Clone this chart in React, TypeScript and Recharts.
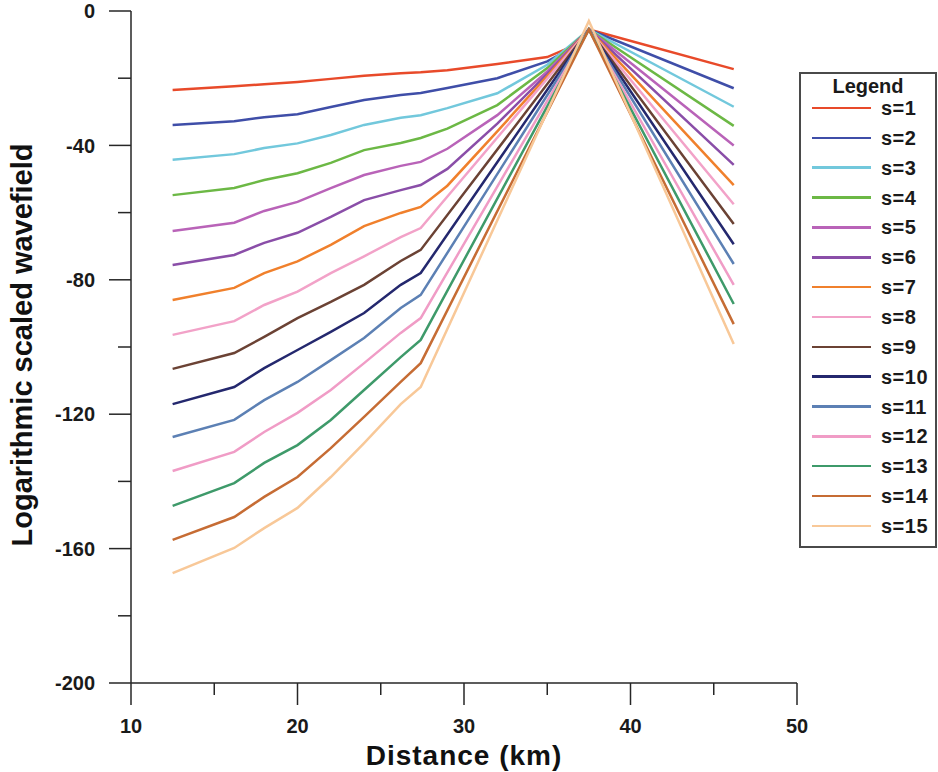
import { LineChart, Line, XAxis, YAxis } from "recharts"

// distance (km) where the curves were read
const distance = [12.5, 16.2, 18, 20, 22, 24, 26.2, 27.4, 29, 32, 35, 36.5, 37.5, 46.2]

// log-scaled wavefield per scale s (null = straight segment, no reading)
const s1 = [-23.5, -22.4, -21.8, -21.1, -20.2, -19.3, -18.5, -18.2, -17.6, -15.8, -13.7, -10.5, -5.5, -17.3]
const s2 = [-33.9, -32.8, -31.6, -30.7, -28.6, -26.5, -25, -24.4, -22.9, -20, -15, -11, -5.5, -23]
const s3 = [-44.3, -42.6, -40.8, -39.4, -36.9, -33.9, -31.8, -31, -28.9, -24.5, -16, null, -5.5, -28.5]
const s4 = [-54.8, -52.7, -50.3, -48.3, -45.2, -41.4, -39.3, -37.8, -35, -28, -17, null, -5.5, -34.2]
const s5 = [-65.5, -63, -59.5, -56.8, -52.7, -48.8, -46.1, -44.9, -41, -31, -18, null, -5.5, -40]
const s6 = [-75.6, -72.6, -69, -66, -61.3, -56.3, -53.3, -51.8, -47, -33.5, -18.7, null, -5.5, -45.8]
const s7 = [-86, -82.4, -78, -74.5, -69.6, -64, -60.1, -58.3, -52, -35.8, -19.4, null, -5.5, -51.8]
const s8 = [-96.4, -92.3, -87.5, -83.5, -78, -73, -67.3, -64.6, null, null, null, null, -5.5, -57.5]
const s9 = [-106.5, -101.8, -97, -91.4, -86.6, -81.5, -74.4, -71.1, null, null, null, null, -5.5, -63.4]
const s10 = [-117, -111.9, -106.3, -100.9, -95.5, -89.9, -81.5, -78, null, null, null, null, -5.5, -69.4]
const s11 = [-126.8, -121.7, -115.8, -110.4, -103.9, -97.3, -88.4, -84.5, null, null, null, null, -5.5, -75.3]
const s12 = [-136.9, -131.2, -125.3, -119.6, -112.8, -104.8, -95.8, -91.4, null, null, null, null, -5.5, -81.5]
const s13 = [-147.3, -140.5, -134.5, -129.2, -121.7, -112.8, -103, -97.9, null, null, null, null, -5.5, -87.2]
const s14 = [-157.4, -150.6, -144.6, -138.7, -130.1, -120.8, -110.4, -104.8, null, null, null, null, -5.5, -93.2]
const s15 = [-167.3, -159.8, -153.9, -147.9, -138.7, -128.6, -117, -111.9, null, null, null, null, -3, -99.1]

const seriesValues = [s1, s2, s3, s4, s5, s6, s7, s8, s9, s10, s11, s12, s13, s14, s15]
const seriesNames = ["s=1", "s=2", "s=3", "s=4", "s=5", "s=6", "s=7", "s=8", "s=9", "s=10", "s=11", "s=12", "s=13", "s=14", "s=15"]
const seriesColors = [
  "#e84a2a", "#3f4ea8", "#72c8dc", "#6cb845", "#b963b8",
  "#8a4ea8", "#f0802c", "#f2a2c8", "#6b4234", "#24286e",
  "#5c80b4", "#f09cc6", "#3e9a6a", "#c66c34", "#f8c898",
]

const xTicks = [10, 15, 20, 25, 30, 35, 40, 45, 50]
const yTicks = [0, -20, -40, -60, -80, -100, -120, -140, -160, -180, -200]

const data = distance.map((x, i) => {
  const row: Record<string, number | null> = { x }
  seriesValues.forEach((vals, k) => {
    row["s" + (k + 1)] = vals[i]
  })
  return row
})

const font = "'Liberation Sans', Arial, sans-serif"
const axisColor = "#262626"

const YTick = (props: any) => {
  const { x, y, payload } = props
  const major = payload.value % 40 === 0
  return (
    <g>
      <line x1={x - (major ? 22 : 13)} x2={x} y1={y} y2={y} stroke={axisColor} strokeWidth={1.5} />
      {major && (
        <text x={x - 36} y={y} dy="0.36em" textAnchor="end" fontFamily={font} fontWeight="bold" fontSize={20} fill="#1a1a1a">
          {payload.value}
        </text>
      )}
    </g>
  )
}

const XTick = (props: any) => {
  const { x, y, payload } = props
  const major = payload.value % 10 === 0
  return (
    <g>
      <line x1={x} x2={x} y1={y} y2={y + (major ? 22 : 12)} stroke={axisColor} strokeWidth={1.5} />
      {major && (
        <text x={x} y={y + 43} dy="0.36em" textAnchor="middle" fontFamily={font} fontWeight="bold" fontSize={20} fill="#1a1a1a">
          {payload.value}
        </text>
      )}
    </g>
  )
}

const YTitle = (props: any) => {
  const { viewBox } = props
  const cy = viewBox.y + viewBox.height / 2 - 2
  return (
    <text x={22} y={cy} transform={`rotate(-90, 22, ${cy})`} dy="0.36em" textAnchor="middle" fontFamily={font} fontWeight="bold" fontSize={29} fill="#111">
      Logarithmic scaled wavefield
    </text>
  )
}

const XTitle = (props: any) => {
  const { viewBox } = props
  return (
    <text x={viewBox.x + viewBox.width / 2} y={755} dy="0.36em" textAnchor="middle" fontFamily={font} fontWeight="bold" fontSize={28} letterSpacing={1} fill="#111">
      Distance (km)
    </text>
  )
}

function LegendBox() {
  return (
    <div
      style={{
        position: "absolute",
        left: 799,
        top: 72,
        width: 134,
        height: 472,
        border: "2px solid #4a4a4a",
        fontFamily: font,
        fontWeight: "bold",
        boxSizing: "content-box",
      }}
    >
      <div style={{ position: "absolute", left: 0, width: 134, top: 0, textAlign: "center", fontSize: 20, lineHeight: "24px", color: "#1a1a1a" }}>
        Legend
      </div>
      {seriesNames.map((name, i) => (
        <div key={name} style={{ position: "absolute", left: 11, top: 23 + i * 29.85, height: 22, display: "flex", alignItems: "center" }}>
          <div style={{ width: 59, height: 2.5, background: seriesColors[i] }} />
          <span style={{ marginLeft: 10, fontSize: 20, lineHeight: "22px", color: "#1a1a1a", letterSpacing: 0.5 }}>{name}</span>
        </div>
      ))}
    </div>
  )
}

export default function App() {
  return (
    <div style={{ position: "absolute", left: 0, top: 0, width: 938, height: 772, background: "#fff" }}>
      <LineChart width={938} height={772} data={data} margin={{ top: 11, right: 141, bottom: 0, left: 0 }}>
        <XAxis
          dataKey="x"
          type="number"
          domain={[10, 50]}
          ticks={xTicks}
          height={89}
          tickSize={0}
          tickMargin={0}
          tickLine={false}
          tick={<XTick />}
          stroke={axisColor}
          strokeWidth={1.5}
          label={<XTitle />}
        />
        <YAxis
          type="number"
          domain={[-200, 0]}
          ticks={yTicks}
          width={131}
          tickSize={0}
          tickMargin={0}
          tickLine={false}
          tick={<YTick />}
          stroke={axisColor}
          strokeWidth={1.5}
          label={<YTitle />}
          interval={0}
        />
        {seriesNames.map((name, i) => (
          <Line
            key={name}
            dataKey={"s" + (i + 1)}
            name={name}
            type="linear"
            stroke={seriesColors[i]}
            strokeWidth={2.5}
            dot={false}
            connectNulls
            isAnimationActive={false}
          />
        ))}
      </LineChart>
      <LegendBox />
    </div>
  )
}
